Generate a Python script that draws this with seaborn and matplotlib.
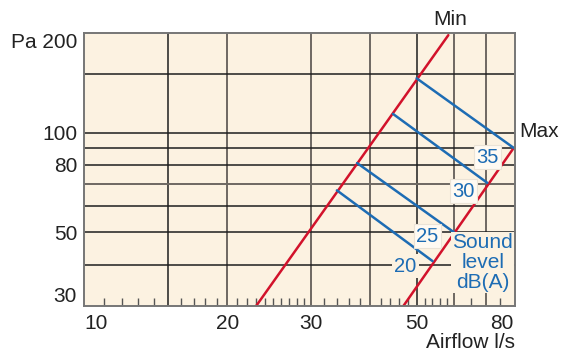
import matplotlib
matplotlib.use("Agg")
import matplotlib.pyplot as plt
import seaborn as sns
import pandas as pd
from matplotlib.ticker import FixedLocator, NullLocator, NullFormatter

sns.set_theme(style="white")
plt.rcParams["font.family"] = ["Liberation Sans", "DejaVu Sans"]

# Operating limits: airflow (l/s) vs. pressure (Pa)
min_flow = [23.0, 58.3]
min_pa = [30, 197]
max_flow = [46.9, 80.0]
max_pa = [30, 90]

# Sound level lines, from the Min curve to the Max curve
sound_levels = ["20", "25", "30", "35"]
sound_flow_start = [34.0, 37.5, 44.6, 50.0]
sound_pa_start = [67, 81, 114, 146]
sound_flow_end = [54.0, 60.0, 70.4, 80.0]
sound_pa_end = [41, 50, 70.6, 90]
sound_label_flow = [47.4, 52.7, 62.8, 70.5]
sound_label_pa = [39.5, 48.7, 66.7, 84.4]

x_ticks = [10, 20, 30, 50, 80]
x_ticklabels = ["10", "20", "30", "50", "80"]
y_ticks = [30, 50, 80, 100, 200]
y_ticklabels = ["30", "50", "80", "100", "Pa 200"]
x_grid_dark = [15, 50]
x_grid_light = [20, 30, 40, 60, 70]
y_grid_dark = [40, 50, 60, 80, 90, 100, 150]
y_grid_light = [70]
x_minor = [11, 12, 13, 14, 16, 17, 18, 19, 21, 22, 23, 24, 25, 26, 27, 28, 29,
           32, 34, 36, 38, 42, 44, 46, 48, 52, 54, 56, 58, 65, 75]

RED = "#d2122b"
BLUE = "#1d6cb4"
CREAM = "#fcf2e1"
INK = "#222222"
FS = 15

fig = plt.figure(figsize=(5.61, 3.51), dpi=100)
ax = fig.add_axes([84 / 561, 1 - 306 / 351, (515 - 84) / 561, (306 - 33) / 351])
ax.set_facecolor(CREAM)
ax.set_xscale("log")
ax.set_yscale("log")
ax.set_xlim(10, 80.5)
ax.set_ylim(30, 200)

for v in x_grid_dark:
    ax.axvline(v, color="#1e1e1e", lw=1.1, zorder=1)
for v in x_grid_light:
    ax.axvline(v, color="#6e6862", lw=1.4, zorder=1)
for v in y_grid_dark:
    ax.axhline(v, color="#1e1e1e", lw=1.1, zorder=1)
for v in y_grid_light:
    ax.axhline(v, color="#6e6862", lw=1.4, zorder=1)

# Min / Max limit curves
sns.lineplot(x=min_flow, y=min_pa, ax=ax, color=RED, lw=1.8, sort=False,
             estimator=None, zorder=3)
sns.lineplot(x=max_flow, y=max_pa, ax=ax, color=RED, lw=1.8, sort=False,
             estimator=None, zorder=3)

# Sound level lines
for x0, y0, x1, y1 in zip(sound_flow_start, sound_pa_start, sound_flow_end, sound_pa_end):
    sns.lineplot(x=[x0, x1], y=[y0, y1], ax=ax, color=BLUE, lw=1.8, sort=False,
                 estimator=None, zorder=3)

for lab, xf, yp in zip(sound_levels, sound_label_flow, sound_label_pa):
    if lab == "20":
        box = dict(boxstyle="square,pad=0.12", fc=CREAM, ec="none")
    else:
        box = dict(boxstyle="square,pad=0.12", fc="#fffaf2", ec="#ebe3d6", lw=0.8)
    ax.text(xf, yp, lab, color=BLUE, fontsize=14.5, ha="center", va="center",
            bbox=box, zorder=4)

ax.text(68.9, 40.6, "Sound\nlevel\ndB(A)", color=BLUE, fontsize=FS, ha="center",
        va="center", linespacing=1.08, zorder=4,
        bbox=dict(boxstyle="square,pad=0.05", fc=CREAM, ec="none"))

ax.text(58.7, 220, "Min", color=INK, fontsize=FS, ha="center", va="center",
        clip_on=False)
ax.text(90.5, 101, "Max", color=INK, fontsize=FS, ha="center", va="center",
        clip_on=False)
ax.text(1.0, -0.132, "Airflow l/s", transform=ax.transAxes, color=INK,
        fontsize=FS, ha="right", va="center")

# Axes ticks and labels
ax.xaxis.set_major_locator(FixedLocator(x_ticks))
ax.set_xticklabels(x_ticklabels)
ax.yaxis.set_major_locator(FixedLocator(y_ticks))
ax.set_yticklabels(y_ticklabels)
ax.xaxis.set_minor_locator(FixedLocator(x_minor))
ax.xaxis.set_minor_formatter(NullFormatter())
ax.yaxis.set_minor_locator(NullLocator())
ax.tick_params(axis="both", which="major", length=0, labelsize=FS, labelcolor=INK)
ax.tick_params(axis="x", which="major", pad=6)
ax.tick_params(axis="y", which="major", pad=5)
ax.tick_params(axis="x", which="minor", direction="in", length=6, width=1,
               color="#555555", bottom=True, top=False)

xl = ax.get_xticklabels()
xl[0].set_ha("left")
xl[-1].set_ha("right")
yl = ax.get_yticklabels()
yl[0].set_va("bottom")
yl[-1].set_va("top")

for s in ax.spines.values():
    s.set_color("#767676")
    s.set_linewidth(1.4)
    s.set_zorder(5)

ax.set_xlabel("")
ax.set_ylabel("")
fig.savefig("out.png", dpi=100)
